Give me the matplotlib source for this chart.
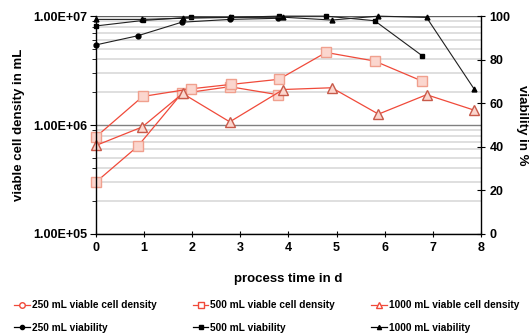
import numpy as np
import matplotlib
matplotlib.use("Agg")
import matplotlib.pyplot as plt
from matplotlib.lines import Line2D
from matplotlib.ticker import LogLocator, NullFormatter

plt.rcParams['font.family'] = ['Liberation Sans', 'DejaVu Sans']
plt.rcParams['font.weight'] = 'bold'

# viable cell density (cells/mL)
t_250 = [0, 0.87, 1.78, 2.78, 3.78]
vcd_250 = [3.0e5, 6.4e5, 1.95e6, 2.25e6, 1.9e6]
t_500 = [0, 0.97, 1.97, 2.8, 3.8, 4.78, 5.79, 6.78]
vcd_500 = [7.8e5, 1.83e6, 2.15e6, 2.36e6, 2.63e6, 4.64e6, 3.87e6, 2.53e6]
t_1000 = [0, 0.96, 1.8, 2.78, 3.89, 4.9, 5.87, 6.87, 7.86]
vcd_1000 = [6.5e5, 9.6e5, 1.95e6, 1.07e6, 2.12e6, 2.2e6, 1.26e6, 1.9e6, 1.37e6]

# viability (%)
via_250 = [86.8, 91.0, 97.2, 98.5, 99.0]
via_500 = [95.5, 98.0, 99.5, 99.4, 100.0, 100.0, 97.9, 81.8]
via_1000 = [98.5, 98.5, 99.0, 99.4, 99.5, 98.2, 100.0, 99.4, 66.5]

xticks = [0, 1, 2, 3, 4, 5, 6, 7, 8]

red = '#f04a3a'
fill = '#fbd6ce'
edge = '#f0a08e'

fig = plt.figure(figsize=(5.32, 3.36), dpi=100)
ax = fig.add_axes([0.1805, 0.3036, 0.7235, 0.6484])
ax2 = ax.twinx()

ax.set_yscale('log')
ax.set_ylim(1e5, 1e7)
ax.set_xlim(0, 8)

# horizontal grid like excel
ax.yaxis.set_minor_locator(LogLocator(base=10, subs=np.arange(2, 10)))
ax.yaxis.set_minor_formatter(NullFormatter())
ax.grid(True, axis='y', which='minor', color='#d9d9d9', lw=1.2)
ax.grid(True, axis='y', which='major', color='#808080', lw=1.0)
ax.grid(False, axis='x')
ax.set_axisbelow(True)

ax.plot(t_250, vcd_250, color=red, lw=0.9, marker='s', ms=7, mfc=fill, mec=edge, mew=1, clip_on=False)
ax.plot(t_500, vcd_500, color=red, lw=0.9, marker='s', ms=7, mfc=fill, mec=edge, mew=1, clip_on=False)
ax.plot(t_1000, vcd_1000, color=red, lw=0.9, marker='^', ms=7, mfc=fill, mec='#c85a4a', mew=1, clip_on=False)

ax2.plot(t_250, via_250, color='#202020', lw=0.8, marker='o', ms=3.5, mfc='black', mec='black', clip_on=False)
ax2.plot(t_500, via_500, color='#202020', lw=0.8, marker='s', ms=3.5, mfc='black', mec='black', clip_on=False)
ax2.plot(t_1000, via_1000, color='#202020', lw=0.8, marker='^', ms=3.5, mfc='black', mec='black', clip_on=False)
ax2.set_ylim(0, 100)
ax2.set_yticks([0, 20, 40, 60, 80, 100])

ax.set_yticks([1e5, 1e6, 1e7])
ax.set_yticklabels(['1.00E+05', '1.00E+06', '1.00E+07'])
ax.set_xticks(xticks)

for a in (ax, ax2):
    a.spines['top'].set_visible(False)
    for s in a.spines.values():
        s.set_linewidth(1.0)
ax.spines['right'].set_visible(False)
ax2.spines['left'].set_visible(False)
ax2.spines['bottom'].set_visible(False)
ax.axhline(1e7, color='#606060', lw=1.5, zorder=1)

ax.tick_params(axis='y', which='major', direction='out', length=4, labelsize=9, pad=2)
ax.tick_params(axis='y', which='minor', direction='out', length=3)
ax.tick_params(axis='x', direction='inout', length=5, labelsize=9, pad=3)
ax2.tick_params(axis='y', direction='inout', length=6, labelsize=9, pad=3)

ax.set_xlabel('process time in d', fontsize=9.5, fontweight='bold', labelpad=14)
ax.set_ylabel('viable cell density in mL', fontsize=9.5, fontweight='bold', labelpad=6)
ax2.set_ylabel('viability in %', fontsize=9.5, fontweight='bold', rotation=270, labelpad=13)

handles = [
    Line2D([], [], color=red, lw=0.9, marker='o', ms=4, mfc='white', mec=red),
    Line2D([], [], color='black', lw=0.9, marker='o', ms=3, mfc='black', mec='black'),
    Line2D([], [], color=red, lw=0.9, marker='s', ms=4, mfc='white', mec=red),
    Line2D([], [], color='black', lw=0.9, marker='s', ms=3, mfc='black', mec='black'),
    Line2D([], [], color=red, lw=0.9, marker='^', ms=4, mfc='white', mec=red),
    Line2D([], [], color='black', lw=0.9, marker='^', ms=3, mfc='black', mec='black'),
]
labels = ['250 mL viable cell density', '250 mL viability',
          '500 mL viable cell density', '500 mL viability',
          '1000 mL viable cell density', '1000 mL viability']
fig.legend(handles, labels, ncol=3, loc='lower left', bbox_to_anchor=(0.01, -0.017),
           frameon=False, handlelength=1.5, handletextpad=0.2,
           columnspacing=3.6, labelspacing=1.2, prop={'weight': 'bold', 'size': 7.3})

fig.savefig('out.png', dpi=100)
